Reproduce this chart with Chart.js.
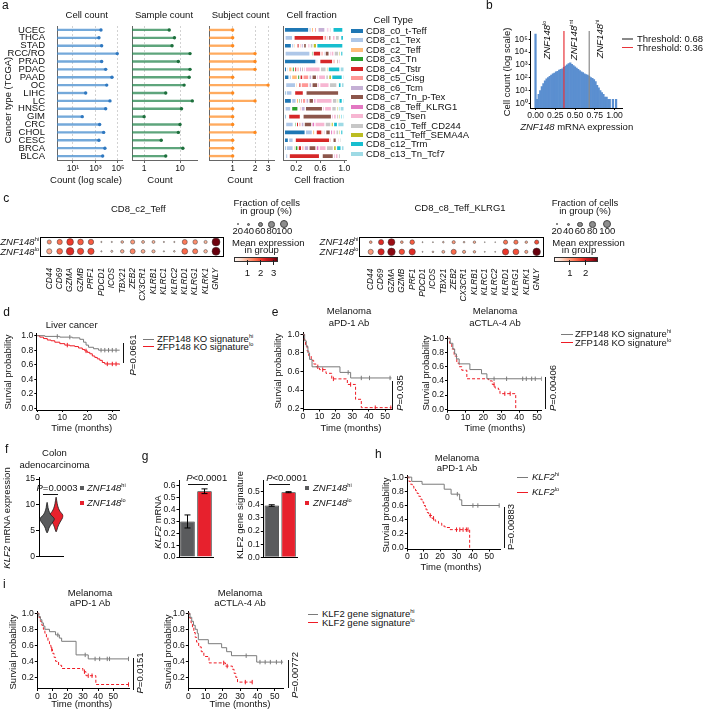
<!DOCTYPE html>
<html>
<head>
<meta charset="utf-8">
<title>ZNF148 / KLF2 figure</title>
<script src="https://cdn.jsdelivr.net/npm/chart.js@4.4.1/dist/chart.umd.min.js"></script>
<style>
  html, body { margin: 0; padding: 0; background: #fff; }
  #fig { position: relative; width: 703px; height: 711px; overflow: hidden; background: #fff;
         font-family: "Liberation Sans", Arial, Helvetica, sans-serif; color: #111; }
  #fig canvas { position: absolute; }
  .t { position: absolute; white-space: nowrap; font-size: 9.5px; line-height: 1.15; }
  .t sup { font-size: 5.6px; line-height: 0; vertical-align: 3.6px; font-style: normal; }
  .d { position: absolute; box-sizing: border-box; }
</style>
</head>
<body>
<div id="fig"></div>
<script>
// ---------------- data: panel a ----------------
const cancerTypes = ['UCEC', 'THCA', 'STAD', 'RCC/RO', 'PRAD', 'PDAC', 'PAAD', 'OC', 'LIHC', 'LC', 'HNSC', 'GIM', 'CRC', 'CHOL', 'CESC', 'BRCA', 'BLCA'];
const cellCounts = [3090, 2040, 3550, 87000, 3550, 8130, 29500, 10000, 135, 19500, 8100, 67, 2350, 5370, 2040, 6920, 4370];
const sampleCounts = [5, 7, 6, 19, 9, 19, 18, 13, 4, 22, 11, 1, 10, 9, 3, 12, 4];
const subjectCounts = [1, 1, 1, 2, 2, 2, 1, 3, 1, 2, 1, 1, 1, 2, 1, 1, 1];
const cellTypes = ['CD8_c0_t-Teff', 'CD8_c1_Tex', 'CD8_c2_Teff', 'CD8_c3_Tn', 'CD8_c4_Tstr', 'CD8_c5_Cisg', 'CD8_c6_Tcm',
  'CD8_c7_Tn_p-Tex', 'CD8_c8_Teff_KLRG1', 'CD8_c9_Tsen', 'CD8_c10_Teff_CD244', 'CD8_c11_Teff_SEMA4A', 'CD8_c12_Trm', 'CD8_c13_Tn_Tcf7'];
const cellTypeColors = ['#1f77b4', '#aec7e8', '#ffbb78', '#2ca02c', '#d62728', '#ff9896', '#c5b0d5',
  '#8c564b', '#e377c2', '#f7b6d2', '#c7c7c7', '#bcbd22', '#17becf', '#9edae5'];
// one row per cancer type, one column per cell type
const cellFractions = [
  [0.41, 0.04, 0.04, 0.02, 0.03, 0.02, 0.12, 0.02, 0.03, 0.03, 0.03, 0.02, 0.17, 0.02],
  [0.01, 0.13, 0.01, 0.01, 0.50, 0.05, 0.03, 0.04, 0.02, 0.05, 0.07, 0.02, 0.05, 0.01],
  [0.12, 0.04, 0.03, 0.02, 0.04, 0.03, 0.04, 0.05, 0.02, 0.04, 0.05, 0.06, 0.44, 0.02],
  [0.01, 0.42, 0.02, 0.03, 0.13, 0.04, 0.03, 0.07, 0.03, 0.05, 0.08, 0.03, 0.04, 0.02],
  [0.53, 0.03, 0.02, 0.01, 0.22, 0.04, 0.02, 0.03, 0.03, 0.02, 0.02, 0.01, 0.01, 0.01],
  [0.04, 0.03, 0.06, 0.04, 0.04, 0.04, 0.04, 0.03, 0.03, 0.25, 0.10, 0.03, 0.20, 0.07],
  [0.08, 0.04, 0.10, 0.04, 0.05, 0.10, 0.05, 0.08, 0.03, 0.12, 0.05, 0.05, 0.18, 0.03],
  [0.02, 0.17, 0.03, 0.02, 0.04, 0.13, 0.05, 0.10, 0.03, 0.16, 0.13, 0.02, 0.05, 0.05],
  [0.03, 0.10, 0.02, 0.02, 0.15, 0.02, 0.02, 0.55, 0.02, 0.02, 0.01, 0.02, 0.01, 0.01],
  [0.12, 0.08, 0.04, 0.03, 0.03, 0.06, 0.05, 0.08, 0.04, 0.27, 0.08, 0.03, 0.06, 0.03],
  [0.01, 0.10, 0.01, 0.11, 0.02, 0.03, 0.07, 0.29, 0.03, 0.12, 0.08, 0.03, 0.03, 0.07],
  [0.03, 0.02, 0.01, 0.01, 0.20, 0.02, 0.02, 0.48, 0.03, 0.05, 0.04, 0.03, 0.03, 0.03],
  [0.02, 0.13, 0.02, 0.03, 0.04, 0.04, 0.05, 0.13, 0.05, 0.17, 0.10, 0.04, 0.07, 0.11],
  [0.35, 0.12, 0.04, 0.02, 0.10, 0.03, 0.03, 0.08, 0.04, 0.05, 0.05, 0.03, 0.04, 0.02],
  [0.07, 0.08, 0.02, 0.01, 0.58, 0.03, 0.02, 0.06, 0.02, 0.03, 0.03, 0.02, 0.02, 0.01],
  [0.03, 0.12, 0.03, 0.05, 0.06, 0.04, 0.08, 0.12, 0.05, 0.12, 0.12, 0.05, 0.08, 0.05],
  [0.02, 0.04, 0.01, 0.01, 0.51, 0.02, 0.02, 0.19, 0.03, 0.05, 0.04, 0.02, 0.02, 0.02]
];

// ---------------- data: panel b ----------------
const exprBins = [0.00, 0.02, 0.04, 0.06, 0.08, 0.10, 0.12, 0.14, 0.16, 0.18, 0.20, 0.22, 0.24, 0.26, 0.28, 0.30, 0.32, 0.34,
  0.36, 0.38, 0.40, 0.42, 0.44, 0.46, 0.48, 0.50, 0.52, 0.54, 0.56, 0.58, 0.60, 0.62, 0.64, 0.66, 0.68, 0.70,
  0.72, 0.74, 0.76, 0.78, 0.80, 0.82, 0.84, 0.86, 0.88, 0.90, 0.92, 0.94, 0.96, 0.98, 1.00, 1.02];
const exprCounts = [250000, 2, 5, 10, 20, 35, 56, 80, 100, 126, 158, 200, 224, 282, 316, 398, 447, 501,
  631, 794, 1000, 1259, 1413, 1122, 891, 708, 562, 447, 355, 282, 251, 200, 178, 158, 126, 100,
  89, 71, 50, 25, 16, 10, 7, 5, 3, 3, 2, 2, null, 2, null, 2];
const thresholds = [0.68, 0.36];
const histTicks = [0, 0.25, 0.5, 0.75, 1];
const histTickLabels = ['0.00', '0.25', '0.50', '0.75', '1.00'];
const countTicks = [1, 10, 100, 1000, 10000, 100000];
const countTickLabels = ['10⁰', '10¹', '10²', '10³', '10⁴', '10⁵'];

// ---------------- data: panel c ----------------
const genes = ['CD44', 'CD69', 'GZMA', 'GZMB', 'PRF1', 'PDCD1', 'ICOS', 'TBX21', 'ZEB2', 'CX3CR1', 'KLRB1', 'KLRC1', 'KLRC2', 'KLRD1', 'KLRG1', 'KLRK1', 'GNLY'];
const c2FracHi = [0.50, 0.62, 0.80, 0.68, 0.65, 0.15, 0.15, 0.32, 0.50, 0.35, 0.35, 0.15, 0.15, 0.60, 0.55, 0.38, 0.95];
const c2MeanHi = [1.3, 1.6, 2.1, 1.8, 1.8, 0.6, 0.5, 0.9, 1.2, 0.9, 0.9, 0.6, 0.6, 1.5, 1.3, 0.9, 3.3];
const c2FracLo = [0.62, 0.68, 0.90, 0.75, 0.75, 0.15, 0.25, 0.42, 0.60, 0.45, 0.38, 0.15, 0.20, 0.70, 0.60, 0.42, 0.95];
const c2MeanLo = [1.0, 1.7, 2.3, 2.0, 2.0, 0.5, 0.6, 1.0, 1.4, 1.0, 0.9, 0.5, 0.6, 1.7, 1.5, 0.9, 3.4];
const c8FracHi = [0.32, 0.62, 0.82, 0.32, 0.55, 0.12, 0.12, 0.20, 0.38, 0.20, 0.30, 0.10, 0.10, 0.50, 0.50, 0.30, 0.50];
const c8MeanHi = [0.9, 1.9, 2.5, 0.9, 1.5, 0.5, 0.5, 0.6, 1.0, 0.6, 0.8, 0.5, 0.5, 1.3, 1.3, 0.8, 1.6];
const c8FracLo = [0.62, 0.75, 0.90, 0.65, 0.75, 0.12, 0.20, 0.35, 0.62, 0.38, 0.30, 0.12, 0.12, 0.75, 0.70, 0.38, 0.90];
const c8MeanLo = [1.0, 2.0, 2.6, 1.6, 1.9, 0.5, 0.6, 0.8, 1.4, 0.9, 0.8, 0.5, 0.5, 1.8, 1.6, 0.9, 2.8];
const fracLegend = [0.2, 0.4, 0.6, 0.8, 1.0];
const fracLegendLabels = ['20', '40', '60', '80', '100'];

// ---------------- data: survival curves (months, survival) ----------------
const liverHiT = [0, 3, 9, 14, 17, 18.5, 19.5, 20.5, 22.5, 24.5, 33];
const liverHiS = [1, 0.99, 0.98, 0.97, 0.95, 0.91, 0.87, 0.84, 0.82, 0.80, 0.80];
const liverHiCens = [8, 13, 25.5, 27, 28.5, 30, 31.5];
const liverLoT = [0, 1, 2.5, 4, 5.5, 7, 9, 11, 13, 15, 16.5, 18, 19, 20, 21, 22, 23, 24, 25, 26, 27, 33];
const liverLoS = [1, 0.98, 0.96, 0.94, 0.93, 0.91, 0.89, 0.87, 0.86, 0.85, 0.83, 0.81, 0.79, 0.77, 0.75, 0.72, 0.70, 0.68, 0.66, 0.63, 0.61, 0.60];
const liverLoCens = [12, 19.5, 28, 30, 31.5];

const pd1HiT = [0, 1, 2, 3, 4, 5.5, 22.5, 29, 54];
const pd1HiS = [1, 0.93, 0.87, 0.80, 0.73, 0.65, 0.59, 0.53, 0.53];
const pd1HiCens = [27.5, 35.5, 40.5, 53];
const pd1LoT = [0, 0.8, 1.5, 2.5, 3.5, 5, 6.5, 8, 10, 14, 17.5, 27, 32, 35.5, 54];
const pd1LoS = [1, 0.94, 0.88, 0.82, 0.77, 0.72, 0.68, 0.65, 0.62, 0.58, 0.52, 0.46, 0.30, 0.21, 0.21];
const pd1LoCens = [9, 12, 18.5, 29, 44, 53.5];

const ctlaHiT = [0, 1.5, 3, 4, 5, 6.5, 12.5, 19, 22, 52.5];
const ctlaHiS = [1, 0.93, 0.85, 0.78, 0.71, 0.64, 0.56, 0.50, 0.43, 0.43];
const ctlaHiCens = [26, 33, 42, 44, 47, 49, 52.5];
const ctlaLoT = [0, 1.2, 2.4, 3.7, 5.2, 6.5, 8, 10.8, 23, 25, 26.5, 28.4, 29.3, 38.1];
const ctlaLoS = [1, 0.93, 0.85, 0.75, 0.65, 0.60, 0.55, 0.43, 0.40, 0.35, 0.30, 0.28, 0.22, 0];
const ctlaLoCens = [26, 32, 35];

const klfHiT = [0, 2.7, 9, 22.5, 26.7, 31.9, 33.2, 56];
const klfHiS = [1, 0.94, 0.90, 0.83, 0.76, 0.68, 0.60, 0.60];
const klfHiCens = [30.5, 40, 43, 56];
const klfLoT = [0, 1, 2, 3, 4, 5, 6, 7, 8, 9, 10, 11, 12, 13, 15, 17, 19, 21, 23, 26, 38];
const klfLoS = [1, 0.94, 0.90, 0.87, 0.84, 0.81, 0.77, 0.73, 0.69, 0.65, 0.60, 0.55, 0.50, 0.46, 0.42, 0.38, 0.35, 0.31, 0.29, 0.26, 0];
const klfLoCens = [14, 16, 30, 32, 34, 36, 37];

const sigPd1HiT = [0, 1, 2, 3, 4, 5, 8, 12, 14.5, 16, 25.5, 33.5, 60];
const sigPd1HiS = [1, 0.96, 0.92, 0.88, 0.84, 0.80, 0.77, 0.73, 0.69, 0.65, 0.48, 0.43, 0.43];
const sigPd1HiCens = [13.5, 31.5, 38, 41, 46, 47.5, 60];
const sigPd1LoT = [0, 1, 2, 3, 4, 5, 6, 7, 8, 9, 10, 11, 12, 14, 16, 30, 32, 38.5, 60];
const sigPd1LoS = [1, 0.95, 0.90, 0.85, 0.80, 0.75, 0.70, 0.65, 0.60, 0.55, 0.50, 0.45, 0.40, 0.35, 0.31, 0.27, 0.22, 0.11, 0.11];
const sigPd1LoCens = [9.5, 31, 33.5, 36, 60];

const sigCtlaHiT = [0, 1, 2, 3, 4, 5.2, 5.8, 11.6, 19.3, 22.2, 25, 39.6, 55];
const sigCtlaHiS = [1, 0.95, 0.90, 0.85, 0.80, 0.75, 0.67, 0.62, 0.57, 0.52, 0.47, 0.39, 0.39];
const sigCtlaHiCens = [33.5, 41.5, 44.5, 47.5, 51, 54];
const sigCtlaLoT = [0, 0.8, 1.6, 2.4, 3.2, 4, 4.8, 6, 7.5, 9, 12, 21.5, 25.5, 26.5, 27.5, 28.5, 37];
const sigCtlaLoS = [1, 0.94, 0.88, 0.82, 0.76, 0.70, 0.64, 0.58, 0.52, 0.46, 0.38, 0.34, 0.30, 0.25, 0.20, 0.14, 0.14];
const sigCtlaLoCens = [20.5, 22.5, 33, 37];

// ---------------- data: panels f, g ----------------
const violinHiY = [4.6, 5, 5.5, 6, 6.5, 7, 7.3, 7.6, 8, 8.5, 9, 9.5, 10, 10.5];
const violinHiW = [0, 0.12, 0.2, 0.35, 0.55, 0.75, 0.8, 0.7, 0.45, 0.28, 0.17, 0.1, 0.06, 0];
const violinLoY = [4.8, 5.2, 5.7, 6.2, 6.7, 7.2, 7.6, 7.9, 8.3, 8.8, 9.3, 9.8, 10.3, 10.8, 11.5];
const violinLoW = [0, 0.1, 0.18, 0.3, 0.45, 0.62, 0.75, 0.8, 0.65, 0.42, 0.28, 0.18, 0.12, 0.07, 0];
const groups = ['hi', 'lo'];
const klf2Mrna = [0.30, 0.555];
const klf2MrnaErr = [0.055, 0.02];
const klf2Sig = [0.395, 0.497];
const klf2SigErr = [0.006, 0.004];

// ---------------- colours ----------------
const KM_GRAY = '#7a7a7a', KM_RED = '#ee1c25';
const BAR_GRAY = '#5a5b5d', BAR_RED = '#e7212d';
const redsStops = ['#fff5f0', '#fee0d2', '#fcbba1', '#fc9272', '#fb6a4a', '#ef3b2c', '#cb181d', '#a50f15', '#67000d'];

// ---------------- helpers ----------------
const fig = document.getElementById('fig');
Chart.defaults.font.family = '"Liberation Sans", Arial, Helvetica, sans-serif';
Chart.defaults.font.size = 8.6;
Chart.defaults.color = '#111';
Chart.defaults.animation = false;
Chart.defaults.events = [];
Chart.defaults.plugins.legend.display = false;
Chart.defaults.plugins.tooltip.enabled = false;

function hex(c) { return [1, 3, 5].map(i => parseInt(c.slice(i, i + 2), 16)); }
function reds(t) {
  t = Math.max(0, Math.min(1, t));
  const p = t * 8, i = Math.min(7, Math.floor(p)), f = p - i;
  const a = hex(redsStops[i]), b = hex(redsStops[i + 1]);
  return 'rgb(' + a.map((v, k) => Math.round(v + (b[k] - v) * f)).join(',') + ')';
}

function txt(x, y, html, o = {}) {
  const d = document.createElement('div');
  d.className = 't';
  d.innerHTML = html;
  d.style.left = x + 'px';
  d.style.top = y + 'px';
  const a = o.anchor || 'c';
  const tx = a === 'l' ? '0' : a === 'r' ? '-100%' : '-50%';
  d.style.transform = o.rot ? 'translate(-50%,-50%) rotate(' + o.rot + 'deg)' : 'translate(' + tx + ',-50%)';
  if (o.size) d.style.fontSize = o.size + 'px';
  if (o.italic) d.style.fontStyle = 'italic';
  fig.appendChild(d);
}
function hseg(x1, x2, y, color, w = 1) {
  const d = document.createElement('div');
  d.className = 'd';
  d.style.cssText += `left:${x1}px;top:${y - w / 2}px;width:${x2 - x1}px;height:${w}px;background:${color}`;
  fig.appendChild(d);
}
function vseg(x, y1, y2, color, w = 1) {
  const d = document.createElement('div');
  d.className = 'd';
  d.style.cssText += `left:${x - w / 2}px;top:${y1}px;width:${w}px;height:${y2 - y1}px;background:${color}`;
  fig.appendChild(d);
}
function square(cx, cy, s, color) {
  const d = document.createElement('div');
  d.className = 'd';
  d.style.cssText += `left:${cx - s / 2}px;top:${cy - s / 2}px;width:${s}px;height:${s}px;background:${color}`;
  fig.appendChild(d);
}
function circle(cx, cy, r) {
  const d = document.createElement('div');
  d.className = 'd';
  d.style.cssText += `left:${cx - r}px;top:${cy - r}px;width:${2 * r}px;height:${2 * r}px;border-radius:50%;background:#8e8e8e;border:0.6px solid #444`;
  fig.appendChild(d);
}
function colorbar(x, y, w, h, vmax, ticks) {
  const d = document.createElement('div');
  d.className = 'd';
  d.style.cssText += `left:${x}px;top:${y}px;width:${w}px;height:${h}px;border:0.6px solid #333;` +
    `background:linear-gradient(to right,${redsStops.join(',')})`;
  fig.appendChild(d);
  ticks.forEach(v => {
    const px = x + v / vmax * w;
    vseg(px, y + h / 2, y + h + 3, '#222', 0.8);
    txt(px, y + h + 10.5, String(v));
  });
}

function makeChart(area, yW, xH, cfg) {
  const [l, t, r, b] = area, P = 14;
  const left = Math.floor(l - yW - P), top = Math.floor(t - P);
  const w = Math.ceil(r + P) - left, h = Math.ceil(b + xH + P) - top;
  const cv = document.createElement('canvas');
  cv.width = w; cv.height = h;
  cv.style.left = left + 'px'; cv.style.top = top + 'px';
  cv.style.width = w + 'px'; cv.style.height = h + 'px';
  fig.appendChild(cv);
  cfg.options = cfg.options || {};
  cfg.options.responsive = false;
  cfg.options.maintainAspectRatio = false;
  cfg.options.devicePixelRatio = 1;
  cfg.options.layout = {padding: {left: l - yW - left, top: t - top, right: left + w - r, bottom: top + h - b - xH}};
  return new Chart(cv, cfg);
}

function numScale(o, horiz) {
  const c = o.color || '#000';
  return {
    type: o.type || 'linear', position: horiz ? 'bottom' : 'left', min: o.min, max: o.max, offset: false,
    stacked: !!o.stacked,
    afterBuildTicks: s => { s.ticks = o.ticks.map(v => ({value: v})); },
    afterFit: s => { if (horiz) s.height = o.size; else s.width = o.size; },
    ticks: {display: o.labels !== null, autoSkip: false, maxRotation: 0, minRotation: 0, padding: o.pad ?? 0, color: '#111',
      callback: (v, i) => (o.labels ? o.labels[i] : '')},
    grid: {display: o.tl !== 0, drawOnChartArea: !!o.grid, drawTicks: true, tickLength: o.tl ?? 3,
      color: o.grid ? '#d2d2d2' : c, tickColor: c, lineWidth: 1, offset: false},
    border: {display: true, color: c, width: 1, dash: o.grid ? [2, 2] : []}
  };
}
function plainScale(pos, min, max, color) {
  return {type: 'linear', position: pos, min, max, display: true, offset: false,
    afterFit: s => { if (pos === 'top' || pos === 'bottom') s.height = 0; else s.width = 0; },
    ticks: {display: false}, grid: {display: false}, border: {display: true, color: color || '#000', width: 1}};
}
function stepAt(T, S, t) {
  let v = S[0];
  for (let i = 0; i < T.length; i++) if (T[i] <= t) v = S[i];
  return v;
}

// ---------------- panel a ----------------
function lollipop(area, values, min, max, ticks, labels, lineColor, dotColor, showY) {
  makeChart(area, showY ? 57 : 0, 20, {
    type: 'bar',
    data: {
      labels: cancerTypes,
      datasets: [
        {type: 'scatter', order: 0, data: values.map((v, i) => ({x: v, y: cancerTypes[i]})),
          pointRadius: 1.7, pointBackgroundColor: dotColor, pointBorderWidth: 0},
        {order: 1, data: values.map(v => [min, v]), backgroundColor: lineColor, barThickness: 1.7, borderWidth: 0}
      ]
    },
    options: {
      indexAxis: 'y',
      scales: {
        x: numScale({type: 'logarithmic', min, max, ticks, labels, color: '#666', grid: true, tl: 3, pad: 0, size: 20}, true),
        y: {type: 'category', offset: true, afterFit: s => { s.width = showY ? 57 : 0; },
          ticks: {display: showY, autoSkip: false, padding: 4, color: '#111', font: {size: 9.5}},
          grid: {display: false}, border: {display: true, color: '#666', width: 1}}
      }
    }
  });
}
lollipop([57, 26, 122, 160], cellCounts, 0.38, 229000, [10, 1000, 100000], ['10¹', '10³', '10⁵'],
  'rgba(70,140,205,0.75)', '#2f78c0', true);
lollipop([132, 26, 197, 160], sampleCounts, 0.46, 29.7, [1, 10], ['1', '10'],
  'rgba(40,135,80,0.75)', '#1d6f3c', false);
lollipop([209, 26, 274, 160], subjectCounts, 0.48, 3.6, [1, 2, 3], ['1', '2', '3'],
  'rgba(255,150,55,0.8)', '#ff8a1f', false);

makeChart([283.3, 26, 346, 160], 0, 20, {
  type: 'bar',
  data: {
    labels: cancerTypes,
    datasets: cellTypes.map((ct, k) => ({
      label: ct, data: cellFractions.map(row => row[k]), backgroundColor: cellTypeColors[k],
      borderColor: '#fff', borderWidth: 0.7, borderSkipped: false, barPercentage: 0.64, categoryPercentage: 1
    }))
  },
  options: {
    indexAxis: 'y',
    scales: {
      x: numScale({min: -0.017, max: 1.03, ticks: [0.2, 0.6, 1.0], labels: ['0.2', '0.6', '1.0'], color: '#666', tl: 3, pad: 0, size: 20, stacked: true}, true),
      y: {type: 'category', stacked: true, offset: true, afterFit: s => { s.width = 0; },
        ticks: {display: false}, grid: {display: false}, border: {display: true, color: '#666', width: 1}}
    }
  }
});

txt(2, 6, 'a', {anchor: 'l', size: 12});
txt(7.7, 100, 'Cancer type (TCGA)', {rot: -90});
txt(86.7, 15.3, 'Cell count');
txt(164, 15.3, 'Sample count');
txt(240.5, 15.3, 'Subject count');
txt(311.7, 15.3, 'Cell fraction');
txt(86, 179.8, 'Count (log scale)');
txt(160, 179.8, 'Count');
txt(240, 179.8, 'Count');
txt(319.3, 179.8, 'Cell fraction');
txt(393.3, 20, 'Cell Type');
cellTypes.forEach((ct, i) => {
  const y = 30.7 + 9.48 * i;
  hseg(350.7, 363.3, y, cellTypeColors[i], 4);
  txt(366, y, ct, {anchor: 'l'});
});

// ---------------- panel b ----------------
const bMin = 0.43, bMax = 440000;
makeChart([530.7, 31, 622, 108], 32, 16, {
  type: 'bar',
  data: {
    datasets: [
      {type: 'line', data: [{x: thresholds[0], y: bMin}, {x: thresholds[0], y: bMax}], borderColor: '#8a8a8a', borderWidth: 1.2, pointRadius: 0},
      {type: 'line', data: [{x: thresholds[1], y: bMin}, {x: thresholds[1], y: bMax}], borderColor: '#e8343a', borderWidth: 1.2, pointRadius: 0},
      {data: exprBins.map((x, i) => ({x, y: exprCounts[i]})), backgroundColor: '#5b8fd0',
        barPercentage: 1, categoryPercentage: 1, borderWidth: 0}
    ]
  },
  options: {
    scales: {
      x: numScale({min: -0.061, max: 1.095, ticks: histTicks, labels: histTickLabels, tl: 2, pad: 0, size: 16}, true),
      y: numScale({type: 'logarithmic', min: bMin, max: bMax, ticks: countTicks, labels: countTickLabels, tl: 2, pad: 1, size: 32}, false)
    }
  }
});
txt(489.3, 6, 'b', {size: 12});
txt(506.7, 72, 'Cell count (log scale)', {rot: -90});
txt(576.7, 126.7, '<i>ZNF148</i> mRNA expression');
txt(547.3, 40, '<i>ZNF148</i><sup>lo</sup>', {rot: -90});
txt(574, 40, '<i>ZNF148</i><sup>int</sup>', {rot: -90});
txt(600, 39, '<i>ZNF148</i><sup>hi</sup>', {rot: -90});
hseg(621.7, 633, 39, '#8a8a8a', 1.2);
txt(637, 39, 'Threshold: 0.68', {anchor: 'l'});
hseg(621.7, 633, 47.7, '#e8343a', 1.2);
txt(637, 47.7, 'Threshold: 0.36', {anchor: 'l'});

// ---------------- panel c ----------------
const DOT_R = 4.2;
function dotplot(area, xmin, xmax, fracHi, meanHi, fracLo, meanLo, vmax) {
  const row = (frac, mean, y) => ({
    data: genes.map((g, i) => ({x: i, y})),
    pointRadius: frac.map(f => f * DOT_R),
    pointBackgroundColor: mean.map(m => reds(m / vmax)),
    pointBorderColor: '#3a3a3a', pointBorderWidth: 0.5
  });
  makeChart(area, 0, 48, {
    type: 'scatter',
    data: {datasets: [row(fracHi, meanHi, 1), row(fracLo, meanLo, 0)]},
    options: {
      scales: {
        x: {type: 'linear', min: xmin, max: xmax, offset: false,
          afterBuildTicks: s => { s.ticks = genes.map((g, i) => ({value: i})); },
          afterFit: s => { s.height = 48; },
          ticks: {autoSkip: false, minRotation: 90, maxRotation: 90, padding: 4, color: '#111',
            font: {size: 8.3, style: 'italic'}, callback: (v, i) => genes[i]},
          grid: {display: false}, border: {display: true, color: '#000', width: 1}},
        x2: plainScale('top', xmin, xmax),
        y: plainScale('left', -0.5, 1.5),
        y2: plainScale('right', -0.5, 1.5)
      }
    }
  });
}
dotplot([40, 237.3, 223, 256], -0.89, 16.67, c2FracHi, c2MeanHi, c2FracLo, c2MeanLo, 3.35);
dotplot([359, 237.3, 543.3, 256.7], -1.13, 16.64, c8FracHi, c8MeanHi, c8FracLo, c8MeanLo, 2.8);

txt(3.3, 199, 'c', {anchor: 'l', size: 12});
txt(138.3, 209, 'CD8_c2_Teff');
txt(39, 242.3, '<i>ZNF148</i><sup>hi</sup>', {anchor: 'r'});
txt(39, 251.7, '<i>ZNF148</i><sup>lo</sup>', {anchor: 'r'});
txt(266.7, 203.3, 'Fraction of cells');
txt(266, 210.7, 'in group (%)');
[237.7, 248.7, 260.3, 271.7, 284.3].forEach((x, i) => {
  circle(x, 224.3, fracLegend[i] * DOT_R);
  txt(x, 230.8, fracLegendLabels[i]);
});
txt(268.3, 243.3, 'Mean expression');
txt(261.7, 250, 'in group');
colorbar(234.3, 256.7, 44, 5.6, 3.35, [1, 2, 3]);

txt(460, 208.3, 'CD8_c8_Teff_KLRG1');
txt(358.3, 242.3, '<i>ZNF148</i><sup>hi</sup>', {anchor: 'r'});
txt(358.3, 251.7, '<i>ZNF148</i><sup>lo</sup>', {anchor: 'r'});
txt(585, 203.3, 'Fraction of cells');
txt(585, 210.7, 'in group (%)');
[556.7, 568.3, 580, 592.3, 607.3].forEach((x, i) => {
  circle(x, 224.3, fracLegend[i] * DOT_R);
  txt(x, 230.8, fracLegendLabels[i]);
});
txt(588.5, 243.3, 'Mean expression');
txt(579, 250, 'in group');
colorbar(554, 256.7, 44.3, 5.6, 2.8, [1, 2]);

// ---------------- survival panels ----------------
function survChart(area, xmin, xmax, ymin, ymax, yticks, tl, curves) {
  const ds = [];
  curves.forEach(c => {
    ds.push({data: c.t.map((t, i) => ({x: t, y: c.s[i]})), showLine: true, stepped: true,
      borderColor: c.color, borderWidth: 1, borderDash: c.dash ? [3, 2] : [], pointRadius: 0});
    ds.push({data: c.cens.map(t => ({x: t, y: stepAt(c.t, c.s, t)})), showLine: false,
      pointStyle: 'line', pointRotation: 90, pointRadius: 2.2, borderColor: c.color,
      pointBorderColor: c.color, pointBorderWidth: 1});
  });
  const xticks = [0, 10, 20, 30, 40, 50].filter(v => v <= xmax);
  makeChart(area, 24, 20, {
    type: 'scatter',
    data: {datasets: ds},
    options: {
      scales: {
        x: numScale({min: xmin, max: xmax, ticks: xticks, labels: xticks.map(String), tl: tl, pad: 0, size: 20}, true),
        y: numScale({min: ymin, max: ymax, ticks: yticks, labels: yticks.map(v => v.toFixed(1)), tl: 2.5, pad: 1, size: 24}, false)
      }
    }
  });
}
const yT0 = [0, 0.2, 0.4, 0.6, 0.8, 1.0];
const yT2 = [0.2, 0.4, 0.6, 0.8, 1.0];

// d
survChart([36.8, 333.5, 119.8, 410], -0.2, 33, -0.025, 1.03, yT0, 2, [
  {t: liverHiT, s: liverHiS, cens: liverHiCens, color: KM_GRAY},
  {t: liverLoT, s: liverLoS, cens: liverLoCens, color: KM_RED}
]);
txt(3.3, 313.3, 'd', {anchor: 'l', size: 12});
txt(71.7, 325, 'Liver cancer');
txt(8.3, 372, 'Survial probability', {rot: -90});
txt(81.7, 427.5, 'Time (months)');
vseg(123.3, 342.7, 362.7, '#111');
txt(133.3, 355, '<i>P</i>=0.0661', {rot: -90});
hseg(142.7, 154, 339.3, KM_GRAY);
txt(157, 339.3, 'ZFP148 KO signature<sup>hi</sup>', {anchor: 'l'});
hseg(142.7, 154, 346.7, KM_RED);
txt(157, 346.7, 'ZFP148 KO signature<sup>lo</sup>', {anchor: 'l'});

// e left
survChart([303, 332.5, 391.7, 409.5], 0, 54, 0.19, 1.02, yT2, 2, [
  {t: pd1HiT, s: pd1HiS, cens: pd1HiCens, color: KM_GRAY},
  {t: pd1LoT, s: pd1LoS, cens: pd1LoCens, color: KM_RED, dash: true}
]);
txt(271.7, 313.3, 'e', {anchor: 'l', size: 12});
txt(349, 310.7, 'Melanoma');
txt(349, 322.7, 'aPD-1 Ab');
txt(278.3, 371, 'Survial probability', {rot: -90});
txt(351, 427.5, 'Time (months)');
vseg(392.7, 381, 410, '#111');
txt(400, 393.3, '<i>P</i>=0.035', {rot: -90});

// e right
survChart([447.5, 336.2, 541.7, 410.7], 0, 52.6, -0.02, 1.03, yT0, 2, [
  {t: ctlaHiT, s: ctlaHiS, cens: ctlaHiCens, color: KM_GRAY},
  {t: ctlaLoT, s: ctlaLoS, cens: ctlaLoCens, color: KM_RED, dash: true}
]);
txt(495, 310.7, 'Melanoma');
txt(495, 322.7, 'aCTLA-4 Ab');
txt(426, 373.3, 'Survial probability', {rot: -90});
txt(495, 427.5, 'Time (months)');
vseg(545, 376.7, 409.3, '#111');
txt(553, 388.3, '<i>P</i>=0.00406', {rot: -90});
hseg(560.7, 572.7, 334.3, KM_GRAY);
txt(575, 334.3, 'ZFP148 KO signature<sup>hi</sup>', {anchor: 'l'});
hseg(560.7, 572.7, 342.7, KM_RED);
txt(575, 342.7, 'ZFP148 KO signature<sup>lo</sup>', {anchor: 'l'});

// ---------------- panel f ----------------
function violin(c, ys, ws, color) {
  const left = ys.map((y, i) => ({x: c - ws[i], y}));
  const right = ys.map((y, i) => ({x: c + ws[i], y})).reverse();
  return {data: left.concat(right), showLine: true, fill: 'shape', backgroundColor: color,
    borderColor: '#1a1a1a', borderWidth: 0.8, pointRadius: 0, tension: 0.3};
}
makeChart([39, 477, 63.3, 556.7], 18, 6, {
  type: 'scatter',
  data: {datasets: [violin(1, violinHiY, violinHiW, BAR_GRAY), violin(2, violinLoY, violinLoW, BAR_RED)]},
  options: {
    scales: {
      x: {type: 'linear', min: 0.1, max: 2.8, afterFit: s => { s.height = 6; }, ticks: {display: false},
        grid: {display: false}, border: {display: true, color: '#000', width: 1}},
      y: numScale({min: 0, max: 15.4, ticks: [0, 5, 10, 15], labels: ['0', '5', '10', '15'], tl: 3, pad: 1, size: 18}, false)
    }
  }
});
txt(5, 450, 'f', {anchor: 'l', size: 12});
txt(54.5, 453.3, 'Colon');
txt(54.5, 465, 'adenocarcinoma');
txt(7.3, 518, '<i>KLF2</i> mRNA expression', {rot: -90});
txt(57, 488.3, '<i>P</i>=0.0003');
hseg(43.3, 58.3, 494.3, '#111', 0.8);
square(81.7, 488.3, 4.2, BAR_GRAY);
txt(87, 488.3, '<i>ZNF148</i><sup>hi</sup>', {anchor: 'l'});
square(81.7, 502.7, 4.2, BAR_RED);
txt(87, 502.7, '<i>ZNF148</i><sup>lo</sup>', {anchor: 'l'});

// ---------------- panel g ----------------
function errBar(cat, m, e) {
  return {type: 'line', data: [{x: cat, y: m - e}, {x: cat, y: m + e}], borderColor: '#000', borderWidth: 1,
    pointStyle: 'line', pointRadius: 3, pointBorderColor: '#000', pointBorderWidth: 1};
}
function barPanel(area, vals, errs, ymax, yticks, ylabels) {
  makeChart(area, 24, 6, {
    type: 'bar',
    data: {
      labels: groups,
      datasets: [
        errBar(groups[0], vals[0], errs[0]),
        errBar(groups[1], vals[1], errs[1]),
        {data: vals, backgroundColor: [BAR_GRAY, BAR_RED], borderColor: '#111', borderWidth: 0.8,
          barPercentage: 0.85, categoryPercentage: 1}
      ]
    },
    options: {
      scales: {
        x: {type: 'category', afterFit: s => { s.height = 6; }, ticks: {display: false},
          grid: {display: false}, border: {display: true, color: '#000', width: 1}},
        y: numScale({min: 0, max: ymax, ticks: yticks, labels: ylabels, tl: 2.5, pad: 1, size: 24}, false)
      }
    }
  });
}
barPanel([179, 480, 213, 557], klf2Mrna, klf2MrnaErr, 0.65,
  [0, 0.1, 0.2, 0.3, 0.4, 0.5, 0.6], ['0.0', '0.1', '0.2', '0.3', '0.4', '0.5', '0.6']);
barPanel([263.3, 480, 297, 557.3], klf2Sig, klf2SigErr, 0.59,
  [0, 0.1, 0.2, 0.3, 0.4, 0.5], ['0.0', '0.1', '0.2', '0.3', '0.4', '0.5']);
txt(141.7, 456.7, 'g', {anchor: 'l', size: 12});
txt(157.5, 522, '<i>KLF2</i> mRNA', {rot: -90});
txt(206.7, 478.3, '<i>P</i>&lt;0.0001');
hseg(188, 208, 484.3, '#111', 0.8);
txt(240, 515, 'KLF2 gene signature', {rot: -90});
txt(286.7, 478.3, '<i>P</i>&lt;0.0001');
hseg(269.3, 290, 484.3, '#111', 0.8);
square(307.3, 488.3, 4.2, BAR_GRAY);
txt(313, 488.3, '<i>ZNF148</i><sup>hi</sup>', {anchor: 'l'});
square(307.3, 502.7, 4.2, BAR_RED);
txt(313, 502.7, '<i>ZNF148</i><sup>lo</sup>', {anchor: 'l'});

// ---------------- panel h ----------------
survChart([407.3, 475, 500, 549.5], 0, 56.5, -0.02, 1.03, yT0, 2, [
  {t: klfHiT, s: klfHiS, cens: klfHiCens, color: KM_GRAY},
  {t: klfLoT, s: klfLoS, cens: klfLoCens, color: KM_RED, dash: true}
]);
txt(375, 455, 'h', {anchor: 'l', size: 12});
txt(457, 457.7, 'Melanoma');
txt(457, 468.3, 'aPD-1 Ab');
txt(385.5, 515, 'Survial probability', {rot: -90});
txt(451, 566.7, 'Time (months)');
vseg(504, 506.7, 548.3, '#111');
txt(510.7, 527, 'P=0.00883', {rot: -90});
hseg(517.3, 528.3, 477.3, KM_GRAY);
txt(532, 477.3, '<i>KLF2</i><sup>hi</sup>', {anchor: 'l'});
hseg(517.3, 528.3, 492.3, KM_RED);
txt(532, 492.3, '<i>KLF2</i><sup>lo</sup>', {anchor: 'l'});

// ---------------- panel i ----------------
survChart([37.3, 611.7, 129.3, 688.5], 0, 60.5, 0.06, 1.02, yT2, 2.5, [
  {t: sigPd1HiT, s: sigPd1HiS, cens: sigPd1HiCens, color: KM_GRAY},
  {t: sigPd1LoT, s: sigPd1LoS, cens: sigPd1LoCens, color: KM_RED, dash: true}
]);
survChart([188.3, 611.7, 283.3, 688.5], 0, 55, 0.06, 1.02, yT2, 2.5, [
  {t: sigCtlaHiT, s: sigCtlaHiS, cens: sigCtlaHiCens, color: KM_GRAY},
  {t: sigCtlaLoT, s: sigCtlaLoS, cens: sigCtlaLoCens, color: KM_RED, dash: true}
]);
txt(3, 585, 'i', {anchor: 'l', size: 12});
txt(90, 592.7, 'Melanoma');
txt(90, 603.3, 'aPD-1 Ab');
txt(13.3, 651.7, 'Survial probability', {rot: -90});
txt(81.7, 704.3, 'Time (months)');
vseg(133.3, 658.3, 690, '#111');
txt(140, 673.3, '<i>P</i>=0.0151', {rot: -90});
txt(240, 592.7, 'Melanoma');
txt(240, 603.3, 'aCTLA-4 Ab');
txt(167.5, 651.7, 'Survial probability', {rot: -90});
txt(240, 704.3, 'Time (months)');
vseg(288.3, 660, 688.3, '#111');
txt(295, 675, '<i>P</i>=0.00772', {rot: -90});
hseg(308.3, 318.3, 614.3, KM_GRAY);
txt(322, 614.3, 'KLF2 gene signature<sup>hi</sup>', {anchor: 'l'});
hseg(308.3, 318.3, 622.7, KM_RED);
txt(322, 622.7, 'KLF2 gene signature<sup>lo</sup>', {anchor: 'l'});
</script>
</body>
</html>
